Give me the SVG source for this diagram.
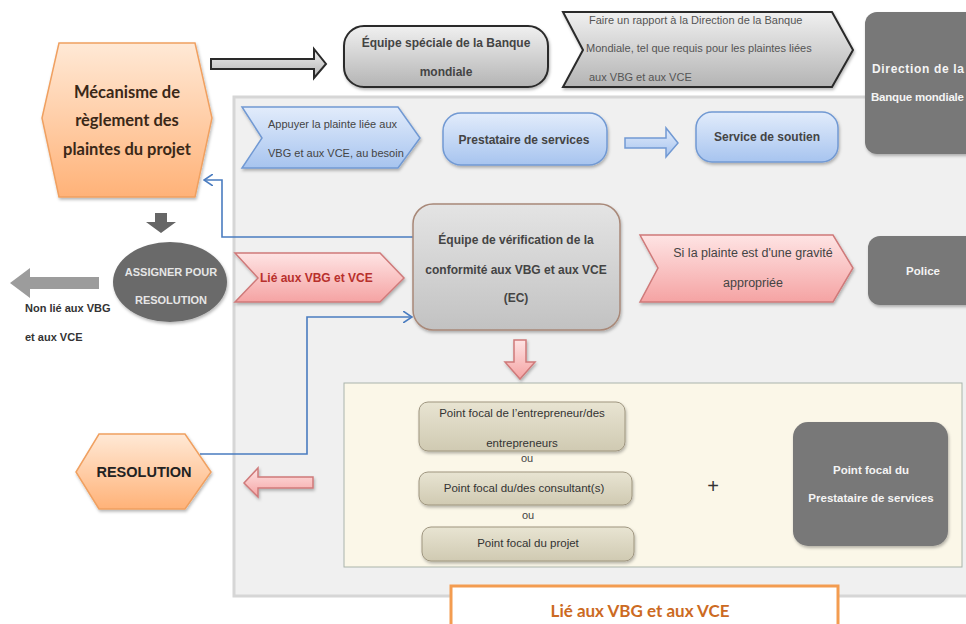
<svg xmlns="http://www.w3.org/2000/svg" width="966" height="624" viewBox="0 0 966 624">
<defs>
<linearGradient id="gOr" x1="0" y1="0" x2="0" y2="1"><stop offset="0" stop-color="#ffe9d6"/><stop offset="1" stop-color="#ffb278"/></linearGradient>
<linearGradient id="gGr" x1="0" y1="0" x2="0" y2="1"><stop offset="0" stop-color="#f0f0f0"/><stop offset="1" stop-color="#b4b4b4"/></linearGradient>
<linearGradient id="gBl" x1="0" y1="0" x2="0" y2="1"><stop offset="0" stop-color="#e2ecfb"/><stop offset="1" stop-color="#a7c4ef"/></linearGradient>
<linearGradient id="gPk" x1="0" y1="0" x2="0" y2="1"><stop offset="0" stop-color="#fee4e4"/><stop offset="1" stop-color="#f5a3a3"/></linearGradient>
<linearGradient id="gEc" x1="0" y1="0" x2="0" y2="1"><stop offset="0" stop-color="#e4e4e4"/><stop offset="1" stop-color="#c2c2c2"/></linearGradient>
<linearGradient id="gKh" x1="0" y1="0" x2="0" y2="1"><stop offset="0" stop-color="#e8e4d2"/><stop offset="1" stop-color="#d0cab2"/></linearGradient>
<filter id="sh" x="-10%" y="-10%" width="125%" height="130%"><feDropShadow dx="1" dy="2" stdDeviation="1.5" flood-color="#000" flood-opacity="0.28"/></filter>
<marker id="ah" viewBox="0 0 10 12" refX="9" refY="6" markerWidth="10" markerHeight="12" markerUnits="userSpaceOnUse" orient="auto"><path d="M0,0 L9,6 L0,12" fill="none" stroke="#4a7cc0" stroke-width="1.6"/></marker>
<style>
text{font-family:"Liberation Sans",Arial,sans-serif;}
.cal{font-family:Lato,"Liberation Sans",sans-serif;font-weight:bold;}
.b{font-weight:bold;}
.c{text-anchor:middle;}
.dk{fill:#444;}
.wt{fill:#f4f4f4;font-weight:bold;}
.blue{fill:url(#gBl);stroke:#7199d3;stroke-width:1.5;}
.pink{fill:url(#gPk);stroke:#cf7a7a;stroke-width:1.5;}
.lgr{fill:url(#gGr);stroke:#2a2a2a;stroke-width:2;}
.kh{fill:url(#gKh);stroke:#9e957f;stroke-width:1;}
.dark{fill:#787878;}
.conn{fill:none;stroke:#4a7cc0;stroke-width:1.6;marker-end:url(#ah);}
</style>
</defs>
<rect width="966" height="624" fill="#ffffff"/>
<rect id="panel" x="234" y="97" width="745" height="499" fill="#f0f0f0" stroke="#d6d6d6" stroke-width="3"/>
<rect id="focal-panel" x="344" y="383" width="618" height="184" fill="#fbf7e8" stroke="#aab4ab" stroke-width="1"/>

<g id="connectors">
<polyline class="conn" points="414,237 222,237 222,180 204,180"/>
<polyline class="conn" points="200,454 307,454 307,317 412,317"/>
<polygon points="211,59 314,59 314,49 326,64 314,78 314,69 211,69" class="lgr" stroke-width="1.6"/>
<polygon points="625,138 666,138 666,128 678,143 666,157 666,148 625,148" class="blue"/>
<polygon points="155,213 167,213 167,222 176,222 161,233 146,222 155,222" fill="#666"/>
<polygon points="99,277 30,277 30,268 10,283 30,298 30,289 99,289" fill="#9c9c9c"/>
<polygon points="514,340 526,340 526,362 535,362 520,379 505,362 514,362" class="pink" filter="url(#sh)"/>
<polygon points="313,477 258,477 258,468 244,483 258,497 258,488 313,488" class="pink" filter="url(#sh)"/>
</g>

<g id="mecanisme">
<polygon points="59,43 195,43 212,118 195,197 59,197 42,118" fill="url(#gOr)" stroke="#f0a060" stroke-width="1.5" filter="url(#sh)"/>
<text class="cal c" x="127" y="98" font-size="16.5" fill="#3a2818">Mécanisme de</text>
<text class="cal c" x="127" y="126" font-size="16.5" fill="#3a2818">règlement des</text>
<text class="cal c" x="127" y="155" font-size="16.5" fill="#3a2818">plaintes du projet</text>
</g>

<g id="equipe-speciale">
<rect x="344" y="26" width="204" height="61" rx="20" class="lgr" filter="url(#sh)"/>
<text class="b c dk" x="446" y="47" font-size="12">Équipe spéciale de la Banque</text>
<text class="b c dk" x="446" y="76" font-size="12">mondiale</text>
</g>

<g id="rapport">
<polygon points="563,12 832,12 853,50 832,87 563,87 583,50" class="lgr" stroke-width="1.5" filter="url(#sh)"/>
<text x="589" y="24" font-size="11" fill="#555">Faire un rapport à la Direction de la Banque</text>
<text x="586" y="52" font-size="11" fill="#555">Mondiale, tel que requis pour les plaintes liées</text>
<text x="589" y="81" font-size="11" fill="#555">aux VBG et aux VCE</text>
</g>

<g id="direction">
<rect x="865" y="12" width="120" height="142" rx="12" class="dark" filter="url(#sh)"/>
<text class="wt" x="872" y="73" font-size="12" textLength="92">Direction de la</text>
<text class="wt" x="871" y="101" font-size="11.5" textLength="93">Banque mondiale</text>
</g>

<g id="appuyer">
<polygon points="242,107 398,107 420,138 398,168 242,168 262,138" class="blue" filter="url(#sh)"/>
<text x="268" y="128" font-size="11" fill="#444">Appuyer la plainte liée aux</text>
<text x="268" y="157" font-size="11" fill="#444">VBG et aux VCE, au besoin</text>
</g>

<g id="prestataire">
<rect x="443" y="113" width="164" height="52" rx="18" class="blue" filter="url(#sh)"/>
<text class="b c dk" x="524" y="144" font-size="12">Prestataire de services</text>
</g>

<g id="soutien">
<rect x="696" y="112" width="142" height="50" rx="16" class="blue" filter="url(#sh)"/>
<text class="b c dk" x="767" y="141" font-size="12">Service de soutien</text>
</g>

<g id="assigner">
<ellipse cx="170" cy="282" rx="57" ry="40" fill="#6b6b6b" filter="url(#sh)"/>
<text class="b c" x="171" y="276" font-size="11" fill="#e6e6e6">ASSIGNER POUR</text>
<text class="b c" x="171" y="304" font-size="11" fill="#e6e6e6">RESOLUTION</text>
</g>

<g id="non-lie">
<text class="b" x="25" y="312" font-size="11" fill="#333">Non lié aux VBG</text>
<text class="b" x="25" y="341" font-size="11" fill="#333">et aux VCE</text>
</g>

<g id="lie-vbg">
<polygon points="235,253 380,253 404,278 380,302 235,302 258,278" class="pink" filter="url(#sh)"/>
<text class="b" x="260" y="282" font-size="12" fill="#b8302c">Lié aux VBG et VCE</text>
</g>

<g id="equipe-verification">
<rect x="413" y="204" width="207" height="126" rx="20" fill="url(#gEc)" stroke="#a88878" stroke-width="1.5" filter="url(#sh)"/>
<text class="b c dk" x="516" y="244" font-size="12">Équipe de vérification de la</text>
<text class="b c dk" x="516" y="274" font-size="12">conformité aux VBG et aux VCE</text>
<text class="b c dk" x="516" y="302" font-size="12">(EC)</text>
</g>

<g id="gravite">
<polygon points="640,235 833,235 853,268 833,302 640,302 658,268" class="pink" filter="url(#sh)"/>
<text class="c" x="753" y="257" font-size="12.5" fill="#444">Si la plainte est d'une gravité</text>
<text class="c" x="753" y="287" font-size="12.5" fill="#444">appropriée</text>
</g>

<g id="police">
<rect x="868" y="236" width="115" height="69" rx="12" class="dark" filter="url(#sh)"/>
<text class="wt c" x="923" y="275" font-size="11.5">Police</text>
</g>

<g id="pf-entrepreneur">
<rect x="419" y="402" width="206" height="49" rx="9" class="kh" filter="url(#sh)"/>
<text class="c" x="522" y="417" font-size="11.5" fill="#333">Point focal de l’entrepreneur/des</text>
<text class="c" x="522" y="447" font-size="11.5" fill="#333">entrepreneurs</text>
</g>
<text class="c" x="527" y="462" font-size="11" fill="#444">ou</text>
<g id="pf-consultant">
<rect x="419" y="472" width="213" height="33" rx="9" class="kh" filter="url(#sh)"/>
<text class="c" x="524" y="492" font-size="11.5" fill="#333">Point focal du/des consultant(s)</text>
</g>
<text class="c" x="528" y="519" font-size="11" fill="#444">ou</text>
<g id="pf-projet">
<rect x="422" y="527" width="212" height="34" rx="9" class="kh" filter="url(#sh)"/>
<text class="c" x="528" y="547" font-size="11.5" fill="#333">Point focal du projet</text>
</g>
<text class="c" x="713" y="493" font-size="20" fill="#333">+</text>

<g id="pf-prestataire">
<rect x="793" y="422" width="155" height="124" rx="15" class="dark" filter="url(#sh)"/>
<text class="wt c" x="871" y="474" font-size="11.5">Point focal du</text>
<text class="wt c" x="871" y="502" font-size="11.5">Prestataire de services</text>
</g>

<g id="resolution">
<polygon points="99,434 185,434 211,472 185,509 99,509 76,472" fill="url(#gOr)" stroke="#f0a060" stroke-width="1.5" filter="url(#sh)"/>
<text class="b c" x="144" y="477" font-size="14.5" fill="#222">RESOLUTION</text>
</g>

<g id="legend">
<rect x="451" y="586" width="387" height="50" fill="#ffffff" stroke="#f39c50" stroke-width="3"/>
<text class="cal c" x="640" y="617" font-size="17" fill="#cc6a22">Lié aux VBG et aux VCE</text>
</g>
</svg>
